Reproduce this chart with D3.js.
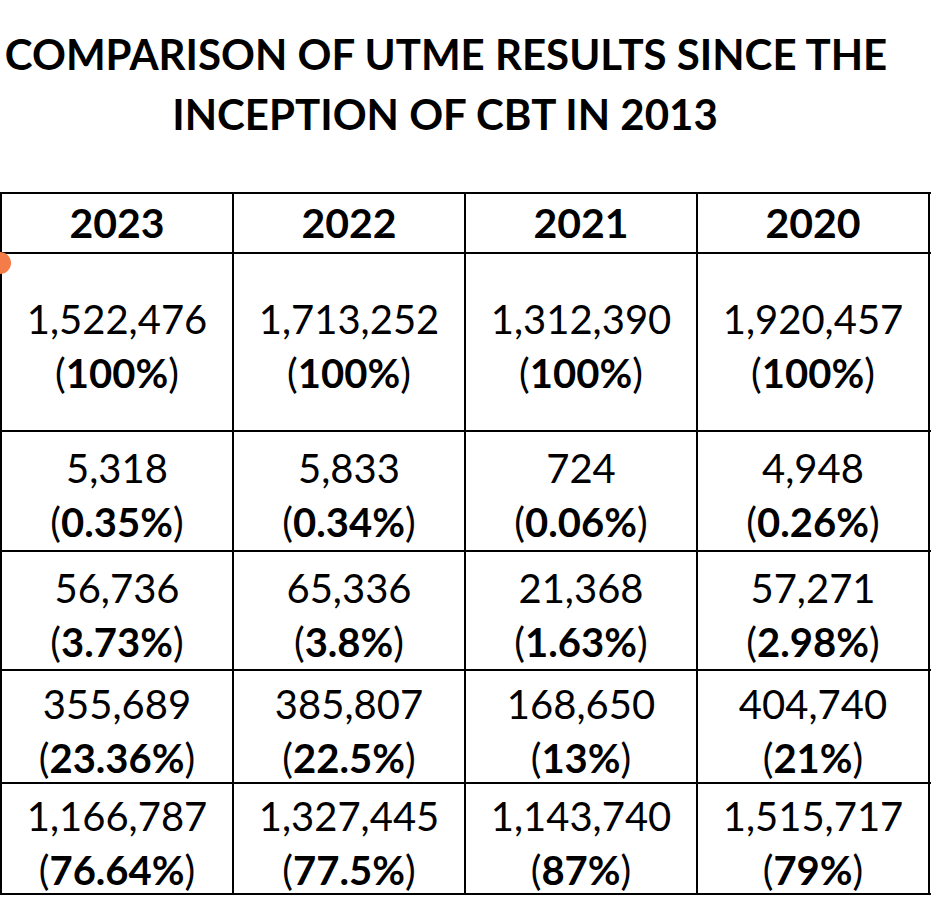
<!DOCTYPE html>
<html><head><meta charset="utf-8">
<script src="https://cdn.jsdelivr.net/npm/d3@7"></script>
<style>body{margin:0;background:#fff}</style></head>
<body><svg id="c" width="931" height="902"></svg>
<script>
const years = ["2023","2022","2021","2020"];
const titleLines = ["COMPARISON OF UTME RESULTS SINCE THE","INCEPTION OF CBT IN 2013"];
const totals = ["1,522,476","1,713,252","1,312,390","1,920,457"];
const totalsPct = ["100%","100%","100%","100%"];
const row2 = ["5,318","5,833","724","4,948"];
const row2Pct = ["0.35%","0.34%","0.06%","0.26%"];
const row3 = ["56,736","65,336","21,368","57,271"];
const row3Pct = ["3.73%","3.8%","1.63%","2.98%"];
const row4 = ["355,689","385,807","168,650","404,740"];
const row4Pct = ["23.36%","22.5%","13%","21%"];
const row5 = ["1,166,787","1,327,445","1,143,740","1,515,717"];
const row5Pct = ["76.64%","77.5%","87%","79%"];

const rows = [[totals,totalsPct],[row2,row2Pct],[row3,row3Pct],[row4,row4Pct],[row5,row5Pct]];
const rowEdges = [253,431,551,670,783,894];
const svg = d3.select("#c");
const font = "Lato, 'Open Sans', sans-serif";
const x = d3.scaleBand().domain(years).range([1,929]);

svg.selectAll("text.title").data(titleLines).join("text")
  .attr("x",(d,i)=>i?445:446).attr("y",(d,i)=>70+i*60).attr("text-anchor","middle")
  .attr("font-family",font).attr("font-weight","bold").attr("font-size",42).text(d=>d);

const g = svg.append("g").attr("stroke","#000").attr("stroke-width",2);
[193].concat(rowEdges).forEach(y=>g.append("line").attr("x1",0).attr("x2",931).attr("y1",y).attr("y2",y));
years.concat(["end"]).forEach((yr,i)=>{
  const xx = yr==="end"?929:x(yr);
  g.append("line").attr("x1",xx).attr("x2",xx).attr("y1",193).attr("y2",894);
});

svg.selectAll("text.hdr").data(years).join("text")
  .attr("x",d=>x(d)+x.bandwidth()/2).attr("y",238).attr("text-anchor","middle")
  .attr("font-family",font).attr("font-weight","bold").attr("font-size",41).text(d=>d);

rows.forEach(([vals,pcts],ri)=>{
  const y0=rowEdges[ri], y1=rowEdges[ri+1], mid=(y0+y1)/2;
  years.forEach((yr,ci)=>{
    const cx = x(yr)+x.bandwidth()/2;
    svg.append("text").attr("x",cx).attr("y",mid-8).attr("text-anchor","middle")
      .attr("font-family",font).attr("font-size",40).text(vals[ci]);
    const t = svg.append("text").attr("x",cx).attr("y",mid+46).attr("text-anchor","middle")
      .attr("font-family",font).attr("font-size",40);
    t.append("tspan").text("(");
    t.append("tspan").attr("font-weight","bold").text(pcts[ci]);
    t.append("tspan").text(")");
  });
});
svg.append("circle").attr("cx",0).attr("cy",263).attr("r",11).attr("fill","#f47c48");
</script></body></html>
